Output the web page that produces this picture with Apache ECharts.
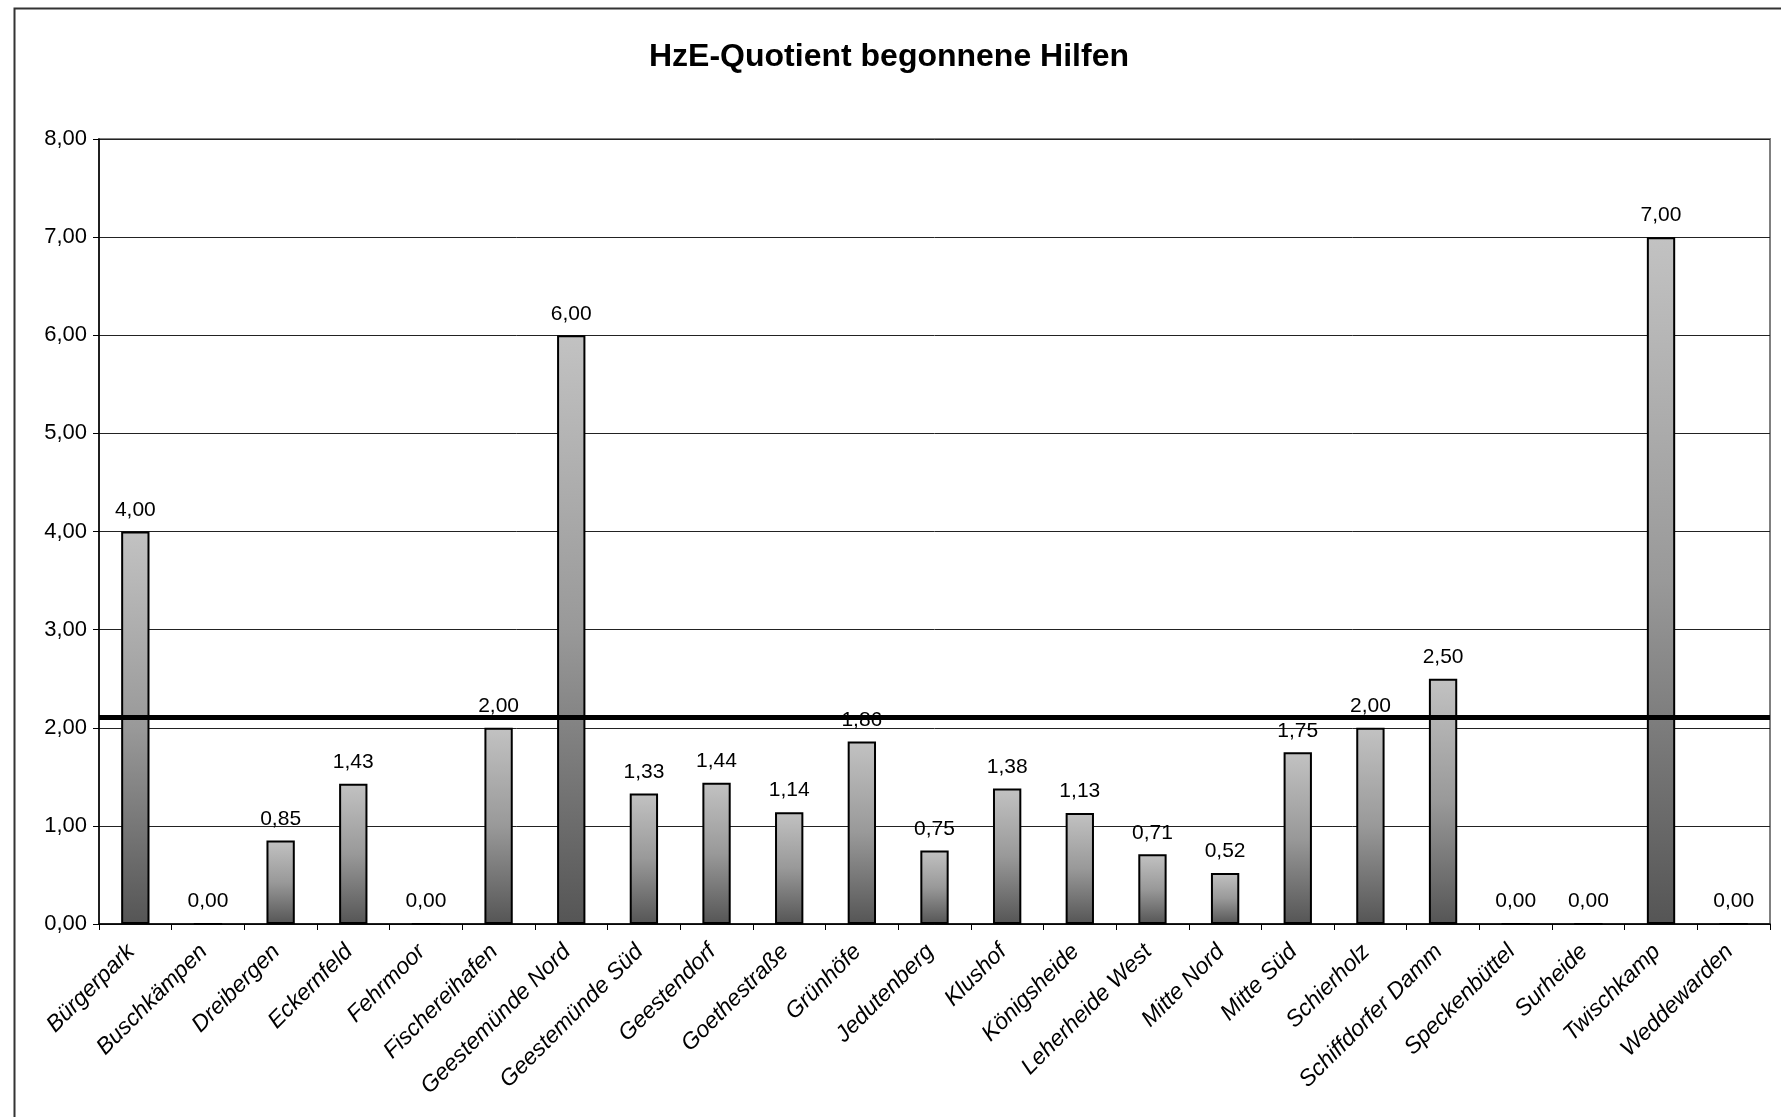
<!DOCTYPE html>
<html>
<head>
<meta charset="utf-8">
<script src="https://cdn.jsdelivr.net/npm/echarts@6/dist/echarts.min.js"></script>
<style>
  html, body { margin: 0; padding: 0; background: #fff; }
  #chart { width: 1781px; height: 1117px; }
</style>
</head>
<body>
<div id="chart"></div>
<script>
// Stadtteile (categories)
const districts = [
  'Bürgerpark', 'Buschkämpen', 'Dreibergen', 'Eckernfeld', 'Fehrmoor',
  'Fischereihafen', 'Geestemünde Nord', 'Geestemünde Süd', 'Geestendorf',
  'Goethestraße', 'Grünhöfe', 'Jedutenberg', 'Klushof', 'Königsheide',
  'Leherheide West', 'Mitte Nord', 'Mitte Süd', 'Schierholz',
  'Schiffdorfer Damm', 'Speckenbüttel', 'Surheide', 'Twischkamp', 'Weddewarden'
];

// HzE-Quotient per district
const quotient = [
  4.00, 0.00, 0.85, 1.43, 0.00,
  2.00, 6.00, 1.33, 1.44,
  1.14, 1.86, 0.75, 1.38, 1.13,
  0.71, 0.52, 1.75, 2.00,
  2.50, 0.00, 0.00, 7.00, 0.00
];

// City-wide reference level (thick horizontal line)
const cityAverage = 2.11;

// Value axis range
const yMin = 0;
const yMax = 8;
const yStep = 1;

const fmt = v => Number(v).toFixed(2).replace('.', ',');
const FONT = '"Liberation Sans", Arial, sans-serif';

const chart = echarts.init(document.getElementById('chart'), null, { renderer: 'canvas' });

chart.setOption({
  backgroundColor: '#ffffff',
  animation: false,
  textStyle: { fontFamily: FONT, color: '#000' },
  title: {
    text: 'HzE-Quotient begonnene Hilfen',
    left: 884,
    textAlign: 'center',
    top: 36,
    textStyle: { fontFamily: FONT, fontSize: 32, fontWeight: 'bold', color: '#000' }
  },
  graphic: [{
    type: 'rect',
    left: 12,
    top: 6,
    shape: { width: 1800, height: 1140 },
    style: { fill: 'none', stroke: '#333', lineWidth: 2 },
    silent: true,
    z: 100
  }],
  grid: {
    left: 99,
    right: 11,
    top: 139,
    bottom: 193,
    show: true,
    borderColor: '#808080',
    borderWidth: 2,
    backgroundColor: '#fff'
  },
  xAxis: {
    type: 'category',
    data: districts,
    boundaryGap: true,
    axisLine: { show: true, lineStyle: { color: '#000', width: 1.5 } },
    axisTick: { show: true, alignWithLabel: false, length: 6, lineStyle: { color: '#000', width: 1 } },
    axisLabel: {
      interval: 0,
      rotate: 45,
      margin: 20,
      fontFamily: FONT,
      fontSize: 23,
      fontStyle: 'italic',
      color: '#000',
      padding: [0, 6, 0, 0]
    },
    splitLine: { show: false }
  },
  yAxis: {
    type: 'value',
    min: yMin,
    max: yMax,
    interval: yStep,
    axisLine: { show: true, lineStyle: { color: '#000', width: 1.5 } },
    axisTick: { show: true, length: 6, lineStyle: { color: '#000', width: 1 } },
    axisLabel: {
      formatter: fmt,
      fontFamily: FONT,
      fontSize: 22,
      color: '#000',
      margin: 12
    },
    splitLine: { show: true, lineStyle: { color: '#222', width: 1 } }
  },
  series: [
    {
      type: 'bar',
      data: quotient,
      barWidth: '39%',
      itemStyle: {
        color: new echarts.graphic.LinearGradient(0, 0, 0, 1, [
          { offset: 0, color: '#c2c2c2' },
          { offset: 0.5, color: '#999999' },
          { offset: 1, color: '#555555' }
        ]),
        borderColor: '#000',
        borderWidth: 2
      },
      label: {
        show: true,
        position: 'top',
        distance: 11,
        formatter: p => fmt(p.value),
        fontFamily: FONT,
        fontSize: 21,
        color: '#000'
      },
      z: 2
    },
    {
      // carries the reference line, drawn above the bar labels
      type: 'line',
      data: [],
      z: 10,
      silent: true,
      markLine: {
        silent: true,
        symbol: ['none', 'none'],
        label: { show: false },
        lineStyle: { color: '#000', width: 5, type: 'solid' },
        data: [{ yAxis: cityAverage }],
        animation: false
      }
    }
  ]
});
</script>
</body>
</html>
